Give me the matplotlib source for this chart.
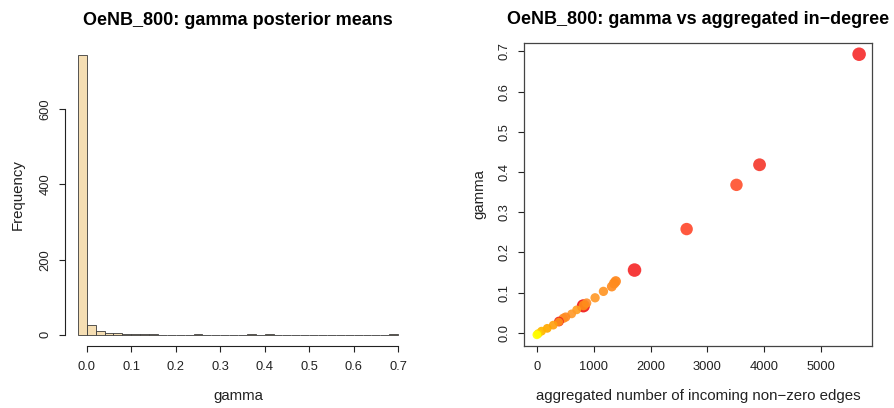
"""OeNB_800 gamma posterior means: histogram and gamma vs aggregated in-degree."""
import numpy as np
import matplotlib
matplotlib.use("Agg")
import matplotlib.pyplot as plt

plt.rcParams["font.family"] = ["Liberation Sans", "DejaVu Sans"]

# histogram: bins of width 0.02 from -0.02 to 0.70
BIN_EDGES = np.round(np.arange(-0.02, 0.7001, 0.02), 4)
COUNTS = [744, 25, 9, 5, 5, 1, 3, 3, 1, 0, 0, 0, 0, 1, 0, 0, 0, 0, 0, 1,
          0, 1, 0, 0, 0, 0, 0, 0, 0, 0, 0, 0, 0, 0, 0, 1]

# scatter: aggregated in-degree vs gamma
IN_DEGREE = [818, 5670, 3918, 3512, 2635, 1718, 1388, 1359, 1318, 1171, 1024, 876,
             822, 700, 612, 506, 465, 388, 388, 288, 182, 82, 24, 0]
GAMMA = [0.067, 0.693, 0.418, 0.368, 0.258, 0.156, 0.128, 0.123, 0.115, 0.103, 0.087, 0.074,
         0.068, 0.057, 0.047, 0.039, 0.036, 0.028, 0.027, 0.019, 0.011, 0.004, -0.002, -0.005]
COLORS = ["#F01818", "#F62E2E", "#F53A2E", "#FF5230", "#FF4A2E", "#F62A2A", "#FF8418", "#FF8A1C",
          "#FF8C20", "#FF9626", "#FF9A2A", "#FF922C", "#FF8C1A", "#FFA020", "#FF9A2A", "#FF8A20",
          "#FF8C22", "#F02A1A", "#FF8C1A", "#FFA010", "#FFA800", "#FFB400", "#FFD000", "#FFFF00"]
SIZES = [90, 95, 85, 80, 80, 95, 55, 55, 50, 45, 45, 45, 50, 40, 40, 45, 45, 50, 35, 40,
         40, 40, 40, 40]

W, H = 895, 408
fig = plt.figure(figsize=(W / 100, H / 100), dpi=100)

TICK_FS, LAB_FS, TITLE_FS = 9.3, 10.8, 13


def fig_box(x0, y0, x1, y1):
    return [x0 / W, 1 - y1 / H, (x1 - x0) / W, (y1 - y0) / H]


def pad(lo, hi, f=0.04):
    d = (hi - lo) * f
    return lo - d, hi + d


def r_style(ax):
    ax.tick_params(axis="both", labelsize=TICK_FS, length=4.5, width=0.8, color="#222222",
                   labelcolor="#222222")
    ax.tick_params(axis="x", pad=6.5)
    ax.tick_params(axis="y", pad=5)
    for lab in ax.get_yticklabels():
        lab.set_rotation(90)
        lab.set_va("center")


# ---- left: histogram
ax1 = fig.add_axes(fig_box(65, 44, 411, 346))
edges = BIN_EDGES
ax1.bar(edges[:-1], COUNTS, width=np.diff(edges), align="edge",
        color="#F5DEB3", edgecolor="#3a3a3a", linewidth=0.6)
ax1.set_xlim(*pad(edges[0], edges[-1]))
ax1.set_ylim(*pad(0, max(COUNTS)))
for s in ("top", "right"):
    ax1.spines[s].set_visible(False)
ax1.spines["left"].set_bounds(0, 600)
ax1.spines["bottom"].set_bounds(0, 0.7)
for s in ("left", "bottom"):
    ax1.spines[s].set_linewidth(0.8)
    ax1.spines[s].set_color("#222222")
ax1.set_xticks(np.round(np.arange(0, 0.71, 0.1), 1))
ax1.set_xticklabels([f"{v:.1f}" for v in np.arange(0, 0.71, 0.1)])
ax1.set_yticks([0, 200, 400, 600])
r_style(ax1)
ax1.set_xlabel("gamma", fontsize=LAB_FS, labelpad=11, color="#222222")
ax1.set_ylabel("Frequency", fontsize=LAB_FS, labelpad=11, color="#222222")
ax1.set_title("OeNB_800: gamma posterior means", fontsize=TITLE_FS, fontweight="bold", pad=14)

# ---- right: scatter
ax2 = fig.add_axes(fig_box(524, 43, 872, 346))
ax2.scatter(IN_DEGREE, GAMMA, s=SIZES, c=COLORS, edgecolors="none", alpha=0.92, zorder=3)
ax2.set_xlim(*pad(min(IN_DEGREE), max(IN_DEGREE)))
ax2.set_ylim(*pad(min(GAMMA), max(GAMMA)))
ax2.set_xticks(range(0, 5001, 1000))
ax2.set_yticks(np.round(np.arange(0, 0.71, 0.1), 1))
ax2.set_yticklabels([f"{v:.1f}" for v in np.arange(0, 0.71, 0.1)])
for s in ax2.spines.values():
    s.set_linewidth(0.9)
    s.set_color("#444444")
r_style(ax2)
ax2.set_xlabel("aggregated number of incoming non\u2212zero edges", fontsize=LAB_FS, labelpad=11,
               color="#222222")
ax2.set_ylabel("gamma", fontsize=LAB_FS, labelpad=9, color="#222222")
ax2.set_title("OeNB_800: gamma vs aggregated in\u2212degree", fontsize=TITLE_FS, fontweight="bold",
              pad=14)

fig.savefig("out.png", dpi=100)
